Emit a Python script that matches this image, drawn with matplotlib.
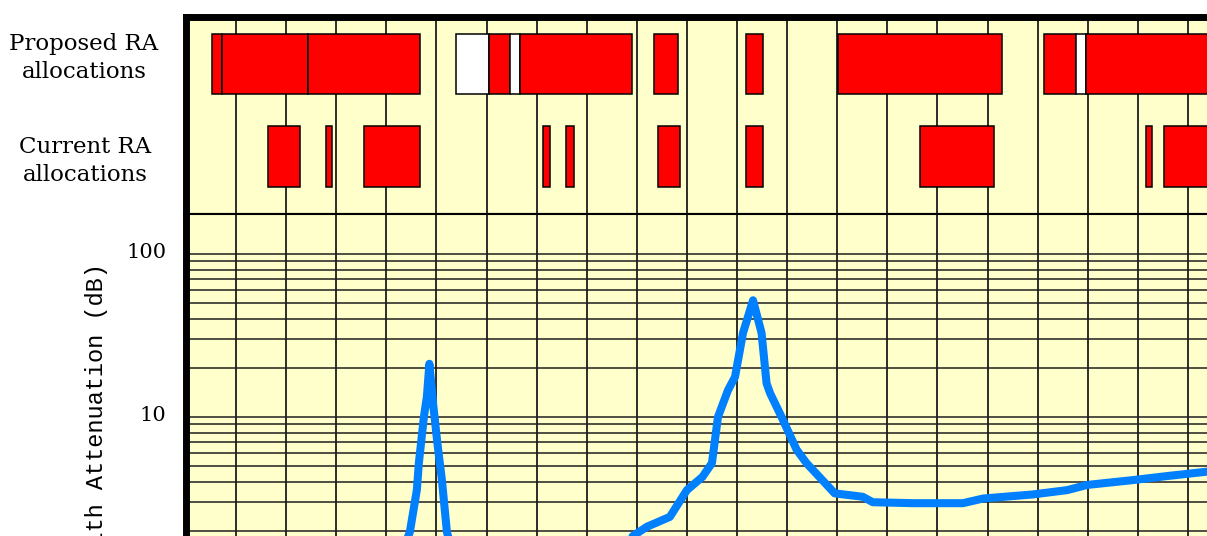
import matplotlib.pyplot as plt
from matplotlib.ticker import NullFormatter
from matplotlib.transforms import ScaledTranslation

# allocation bands (GHz)
proposed_start = [75.2, 77.2, 94.4, 123.9, 130.4, 134.7, 136.7, 163.4, 181.8, 200.2, 241.3, 247.7, 249.6]
proposed_end = [77.2, 94.4, 116.7, 130.4, 134.7, 136.7, 159.1, 168.3, 185.1, 232.8, 247.7, 249.6, 280.0]
proposed_color = ["red", "red", "red", "white", "red", "white", "red", "red", "red", "red", "red", "white", "red"]

current_start = [86.3, 97.9, 105.5, 141.3, 145.8, 164.2, 181.8, 216.5, 261.6, 265.2]
current_end = [92.8, 99.2, 116.7, 142.7, 147.5, 168.6, 185.1, 231.3, 262.9, 280.0]

# zenith attenuation curve
freq = [70, 90, 105, 112, 114.7, 116.1, 116.5, 117.5, 118.1, 118.6, 119.4, 120.2, 121.1, 122.1,
        124, 140, 157, 159.2, 162.0, 166.6, 170.0, 173.1, 175.0, 176.2, 178.2, 179.6, 181.2,
        183.2, 184.9, 185.9, 186.6, 188.9, 191.9, 193.9, 199.5, 205.1, 207.1, 215.1, 225.1,
        229.1, 239.1, 245.9, 249.9, 259.0, 265.8, 273.8, 280, 300]
atten = [0.8, 0.9, 1.0, 1.2, 1.97, 3.57, 5.22, 10.0, 13.3, 21.2, 11.6, 6.9, 4.1, 1.97,
         1.2, 1.0, 1.3, 1.86, 2.12, 2.44, 3.56, 4.29, 5.22, 10.0, 14.6, 17.6, 32.8,
         52.0, 32.8, 16.1, 14.0, 10.0, 6.3, 5.2, 3.4, 3.24, 3.0, 2.96, 2.96,
         3.16, 3.35, 3.56, 3.83, 4.1, 4.34, 4.62, 4.8, 5.4]

grid_freqs = list(range(80, 300, 10))
y_major = [10, 100]
y_labels = ["10", "100"]
y_minor = [2, 3, 4, 5, 6, 7, 8, 9, 20, 30, 40, 50, 60, 70, 80, 90]

BG = "#ffffcc"
GRID = "#1e1e1e"
W, H = 1207, 536

fig = plt.figure(figsize=(W / 100, H / 100), dpi=100)


def box(left, top, right, bottom):
    return [left / W, 1 - bottom / H, (right - left) / W, (bottom - top) / H]


x0 = 185.9          # pixel of 70 GHz
scale = 5.01        # pixels per GHz
x1 = x0 + (300 - 70) * scale

ax_top = fig.add_axes(box(x0, 16.7, x1, 214))
ax_bot = fig.add_axes(box(x0, 214, x1, 580))

for ax in (ax_top, ax_bot):
    ax.set_facecolor(BG)
    ax.set_xlim(70, 300)
    ax.set_xticks(grid_freqs)
    ax.set_axisbelow(True)
    ax.grid(axis="x", color=GRID, lw=1.3)
    ax.tick_params(axis="x", length=0, labelbottom=False)
    ax.spines["left"].set_linewidth(5)

# allocation panel
ax_top.set_ylim(0, 1)
ax_top.set_yticks([])
ax_top.spines["top"].set_linewidth(5)
ax_top.spines["bottom"].set_linewidth(1.5)
ax_top.bar(proposed_start, 0.305, width=[e - s for s, e in zip(proposed_start, proposed_end)],
           bottom=0.607, align="edge", color=proposed_color,
           edgecolor="black", lw=1.1, zorder=3)
ax_top.bar(current_start, 0.309, width=[e - s for s, e in zip(current_start, current_end)],
           bottom=0.137, align="edge", color="red",
           edgecolor="black", lw=1.1, zorder=3)

# attenuation panel
ax_bot.set_yscale("log")
ax_bot.set_ylim(1, 10 ** (2 + 40 / 163))
ax_bot.set_yticks(y_major)
ax_bot.set_yticklabels(y_labels)
ax_bot.set_yticks(y_minor, minor=True)
ax_bot.yaxis.set_minor_formatter(NullFormatter())
ax_bot.grid(axis="y", which="both", color=GRID, lw=1.1)
ax_bot.tick_params(axis="y", which="both", length=0, pad=14)
ax_bot.spines["top"].set_linewidth(1.5)
lift = ScaledTranslation(0, 3.5 / 100, fig.dpi_scale_trans)
for lab in ax_bot.get_yticklabels():
    lab.set_family("DejaVu Serif")
    lab.set_fontsize(15)
    lab.set_transform(lab.get_transform() + lift)
ax_bot.plot(freq, atten, color="#0080ff", lw=5.8, zorder=3)

fig.text(84 / W, 1 - 58 / H, "Proposed RA\nallocations", ha="center", va="center",
         family="DejaVu Serif", fontsize=16.5, multialignment="center", linespacing=1.4)
fig.text(85 / W, 1 - 161 / H, "Current RA\nallocations", ha="center", va="center",
         family="DejaVu Serif", fontsize=16.5, multialignment="center", linespacing=1.4)
fig.text(97 / W, 1 - 263 / H, "Zenith Attenuation (dB)", rotation=90, ha="center", va="top",
         family="Liberation Mono", fontsize=17)

fig.savefig("out.png", dpi=100, facecolor="white")
